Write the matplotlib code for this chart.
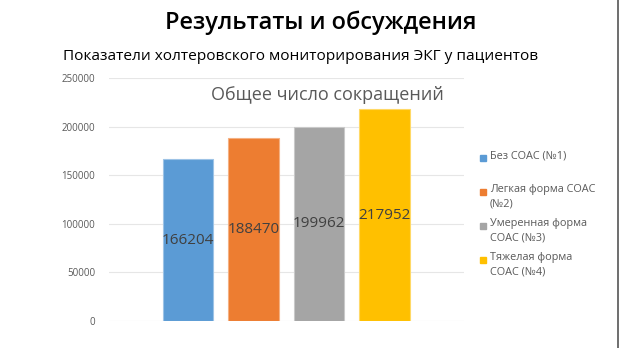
import matplotlib
matplotlib.use("Agg")
import matplotlib.pyplot as plt
from matplotlib.lines import Line2D

plt.rcParams['font.family'] = ['Open Sans', 'DejaVu Sans']

categories = ["Без СОАС (№1)", "Легкая форма СОАС\n(№2)", "Умеренная форма\nСОАС (№3)", "Тяжелая форма\nСОАС (№4)"]
values = [166204, 188470, 199962, 217952]
colors = ["#5B9BD5", "#ED7D31", "#A5A5A5", "#FFC000"]
yticks = [0, 50000, 100000, 150000, 200000, 250000]

W, H = 619, 348
fig = plt.figure(figsize=(W/100, H/100), dpi=100)
ax = fig.add_axes([109/W, 1-321/H, (464-109)/W, (321-78)/H])

x = list(range(len(values)))
bars = ax.bar(x, values, width=0.775, color=colors, edgecolor=["#9DC3E6", "#F4B183", "#C9C9C9", "#FFD966"], linewidth=0.8, zorder=3)
for xi, v in zip(x, values):
    ax.text(xi, v/2, str(v), ha='center', va='center', fontsize=11, color='#404040', zorder=4)

ax.set_xlim(-1.21, 4.22)
ax.set_ylim(0, 250000)
ax.set_yticks(yticks)
ax.set_yticklabels([str(t) for t in yticks], fontsize=7, color='#595959')
ax.set_xticks([])
ax.grid(axis='y', color='#E6E6E6', linewidth=0.8, zorder=0)
for s in ax.spines.values():
    s.set_visible(False)
ax.tick_params(axis='y', length=0, pad=10)

fig.text(321/W, 1-23/H, "Результаты и обсуждения", ha='center', va='center', fontsize=17, fontweight='semibold', color='black')
fig.text(63/W, 1-57/H, "Показатели холтеровского мониторирования ЭКГ у пациентов", ha='left', va='center', fontsize=11.1, color='black')
fig.text(327/W, 1-95/H, "Общее число сокращений", ha='center', va='center', fontsize=13, color='#595959')

# legend
leg_y = [158, 192, 226, 260]
for c, lab, ly in zip(colors, categories, leg_y):
    fig.patches.append(plt.Rectangle((480/W, 1-(ly+3)/H), 6/W, 6/H, transform=fig.transFigure, color=c, figure=fig))
    fig.text(490/W, 1-(ly-8)/H, lab, ha='left', va='top', fontsize=7.8, color='#595959', linespacing=1.5)

fig.add_artist(Line2D([617.5/W, 617.5/W], [0, 1], transform=fig.transFigure, color='#555555', linewidth=1.2))

fig.savefig("out.png", dpi=100)
